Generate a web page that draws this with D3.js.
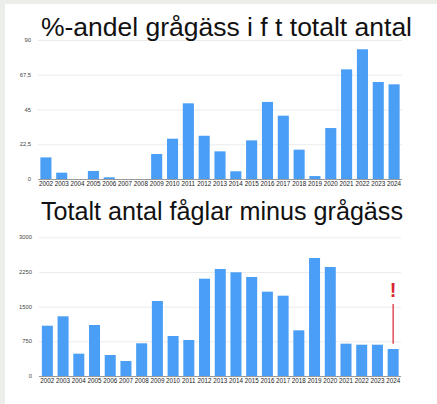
<!DOCTYPE html>
<html><head><meta charset="utf-8">
<script src="https://cdn.jsdelivr.net/npm/d3@7"></script>
<style>
html,body{margin:0;padding:0;background:#fff;}
svg{display:block;}
</style></head>
<body>
<svg id="c" width="437" height="404"></svg>
<script>
const years = ["2002","2003","2004","2005","2006","2007","2008","2009","2010","2011","2012","2013","2014","2015","2016","2017","2018","2019","2020","2021","2022","2023","2024"];
const shareValues = [14.0,4.1,0,5.2,1.1,0,0,16.2,26.1,49.0,28.0,17.9,5.0,25.0,49.9,41.0,19.0,1.9,33.0,71.0,84.0,62.8,61.3];
const otherBirds = [1088,1291,483,1103,454,324,707,1622,865,779,2105,2314,2243,2141,1824,1737,988,2552,2358,699,677,677,584];
const shareTicks = [0,22.5,45,67.5,90];
const shareTickLabels = ["0","22,5","45","67,5","90"];
const countTicks = [0,750,1500,2250,3000];
const countTickLabels = ["0","750","1500","2250","3000"];
const title1 = "%-andel grågäss i f t totalt antal";
const title2 = "Totalt antal fåglar minus grågäss";

const svg = d3.select("#c");
const BAR = "#4a9ef5";
const FONT = "'Liberation Sans', Arial, Helvetica, sans-serif";

// frame strips
svg.append("rect").attr("x",0).attr("y",0).attr("width",437).attr("height",4).attr("fill","#eceee9");
svg.append("rect").attr("x",0).attr("y",0).attr("width",5).attr("height",404).attr("fill","#eceee9");

function chart(cfg){
  const g = svg.append("g");
  const x = d3.scaleBand().domain(years).range([cfg.x0, cfg.x1]).paddingInner(0.3).paddingOuter(0.15);
  const y = d3.scaleLinear().domain([0, cfg.max]).range([cfg.yBase, cfg.yTop]);
  // grid
  g.append("g").selectAll("line").data(cfg.ticks.filter(t=>t>0)).join("line")
    .attr("x1", cfg.gx0).attr("x2", cfg.gx1)
    .attr("y1", d=>y(d)+0.5).attr("y2", d=>y(d)+0.5)
    .attr("stroke","#ebebeb").attr("stroke-width",1);
  // y labels
  g.append("g").selectAll("text").data(cfg.ticks).join("text")
    .attr("x", cfg.labelX).attr("y", d=>y(d)+2)
    .attr("text-anchor","end").attr("font-family",FONT).attr("font-size",5.8).attr("fill","#444")
    .text((d,i)=>cfg.tickLabels[i]);
  // bars
  g.append("g").selectAll("rect").data(cfg.values).join("rect")
    .attr("x",(d,i)=>x(years[i])).attr("width",x.bandwidth())
    .attr("y",d=>y(d)).attr("height",d=>cfg.yBase - y(d))
    .attr("fill",BAR);
  // baseline
  g.append("line").attr("x1",cfg.gx0).attr("x2",cfg.gx1)
    .attr("y1",cfg.yBase+0.5).attr("y2",cfg.yBase+0.5).attr("stroke","#9a9a9a").attr("stroke-width",1);
  // x axis labels
  const xa = d3.axisBottom(x).tickSize(0).tickPadding(0);
  const ax = g.append("g").attr("transform",`translate(0,${cfg.yBase+3})`).call(xa);
  ax.select(".domain").remove();
  ax.selectAll("text").attr("font-family",FONT).attr("font-size",6.3).attr("fill","#222").attr("dy","0.71em");
  // title
  const t = g.append("text").attr("x",cfg.tx).attr("y",cfg.ty).attr("font-family",FONT)
    .attr("font-size",cfg.tsize).attr("fill","#111").text(cfg.title);
  const w = t.node().getComputedTextLength();
  t.attr("textLength", cfg.tw).attr("lengthAdjust","spacingAndGlyphs");
  return {x,y};
}

chart({x0:38,x1:402,gx0:38,gx1:402,yBase:179,yTop:40,max:90,ticks:shareTicks,tickLabels:shareTickLabels,
  values:shareValues,labelX:31,title:title1,tx:41,ty:36,tsize:25,tw:371});
const c2 = chart({x0:39.5,x1:401,gx0:39,gx1:401,yBase:376,yTop:237.3,max:3000,ticks:countTicks,tickLabels:countTickLabels,
  values:otherBirds,labelX:32,title:title2,tx:41,ty:220,tsize:25,tw:362});

// red annotation
const ax2024 = c2.x("2024") + c2.x.bandwidth()/2;
svg.append("text").attr("x",ax2024).attr("y",c2.y(1700)).attr("text-anchor","middle")
  .attr("font-family",FONT).attr("font-weight","bold").attr("font-size",20).attr("fill","#d8232f").text("!");
svg.append("line").attr("x1",ax2024).attr("x2",ax2024).attr("y1",c2.y(1560)).attr("y2",c2.y(700))
  .attr("stroke","#d8232f").attr("stroke-width",1.2);
</script>
</body></html>
